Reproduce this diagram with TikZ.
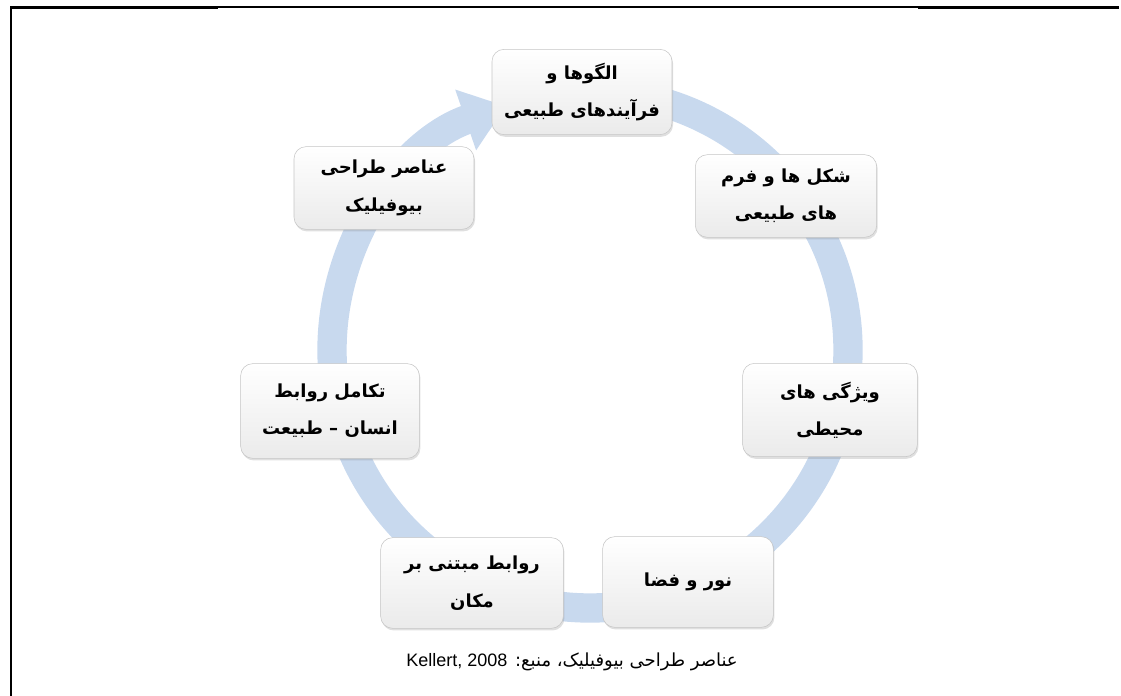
\documentclass[tikz,border=0pt]{standalone}
\usepackage{fontspec}
\setmainfont{Liberation Sans}
\newfontfamily\farsi[Script=Arabic]{DejaVu Sans}
\usetikzlibrary{arrows.meta,shadows}
\TeXXeTstate=1
\definecolor{ringblue}{RGB}{200,217,238}
\tikzset{
  elbox/.style={draw=gray!45, rounded corners=9pt, top color=white, bottom color=gray!16,
    drop shadow={shadow xshift=0.8pt,shadow yshift=-1.6pt,opacity=0.25},
    align=center, font=\farsi\bfseries\fontsize{13.5}{28}\selectfont},
  ring/.style={line width=22pt, ringblue, -{Triangle[length=32pt,width=46pt]}}
}
\begin{document}
\begin{tikzpicture}[x=0.75pt,y=-0.75pt]
\useasboundingbox (0,0) rectangle (1121,696);
\draw[line width=2pt] (10,7.5)--(218,7.5); \draw[line width=1pt] (218,7)--(918,7); \draw[line width=2pt] (918,7.5)--(1119,7.5);
\draw[line width=1.5pt] (11,6.5)--(11,696);
\coordinate (O) at (590,350);
\draw[ring] (590,92) arc[start angle=-90, end angle=251, radius=258];
\node[elbox,minimum width=135pt,minimum height=64pt] (patterns) at (582,92) {\beginR الگوها و\endR\\\beginR فرآیندهای طبیعی\endR};
\node[elbox,minimum width=136pt,minimum height=62pt] (forms) at (786,196) {\beginR شکل ها و فرم\endR\\\beginR های طبیعی\endR};
\node[elbox,minimum width=131pt,minimum height=70pt] (environ) at (830,410) {\beginR ویژگی های\endR\\\beginR محیطی\endR};
\node[elbox,minimum width=128pt,minimum height=68pt] (light) at (688,582) {\beginR نور و فضا\endR};
\node[elbox,minimum width=137pt,minimum height=68pt] (place) at (472,583) {\beginR روابط مبتنی بر\endR\\\beginR مکان\endR};
\node[elbox,minimum width=134pt,minimum height=71pt] (evolved) at (330,411) {\beginR تکامل روابط\endR\\\beginR انسان – طبیعت\endR};
\node[elbox,minimum width=135pt,minimum height=62pt] (elements) at (384,188) {\beginR عناصر طراحی\endR\\\beginR بیوفیلیک\endR};
\node (caption) at (572,662) {\farsi\fontsize{13.5}{16}\selectfont\beginR عناصر طراحی بیوفیلیک، منبع: \beginL{\normalfont\fontsize{13.5}{16}\selectfont Kellert, 2008}\endL\endR};
\end{tikzpicture}
\end{document}
